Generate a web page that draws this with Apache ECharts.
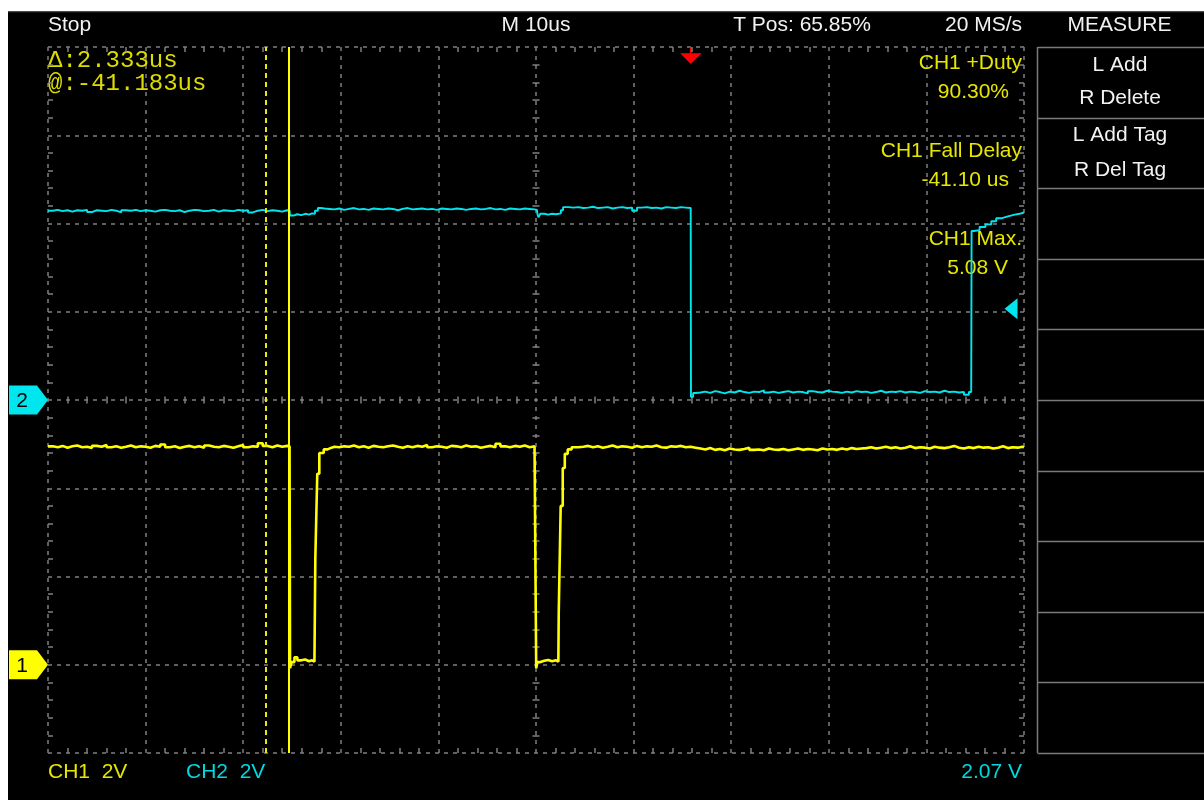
<!DOCTYPE html>
<html>
<head>
<meta charset="utf-8">
<script src="https://cdn.jsdelivr.net/npm/echarts@6/dist/echarts.min.js"></script>
<style>
  html, body { margin: 0; padding: 0; background: #fff; }
  #scope { position: absolute; left: 8px; top: 11px; width: 1196px; height: 789px; }
</style>
</head>
<body>
<div id="scope"></div>
<script>
// ---- acquisition settings ----
const TIME_PER_DIV_US = 10;
const H_DIVS = 10;
const TRIG_POS_PCT = 65.85;
const VOLTS_PER_DIV = 2;
const CH2_TRIG_LEVEL_V = 2.07;
const CURSOR_AT_US = -41.183;
const CURSOR_DELTA_US = 2.333;
const SAMPLE_STEP_US = 0.5;

// ---- on-screen texts ----
const headerTexts = ['Stop', 'M 10us', 'T Pos: 65.85%', '20 MS/s'];
const cursorReadouts = ['\u0394:2.333us', '@:-41.183us'];
const measureLabels = ['CH1 +Duty', 'CH1 Fall Delay', 'CH1 Max.'];
const measureValues = ['90.30%', '-41.10 us', '5.08 V'];
const menuTitle = 'MEASURE';
const menuItems = ['L Add', 'R Delete', 'L Add Tag', 'R Del Tag'];
const channelScales = ['CH1  2V', 'CH2  2V'];
const trigLevelText = '2.07 V';

// ---- CH1 (volts), time in us relative to trigger ----
const ch1LeadStart = -65.85;
const ch1Lead = [
  4.95, 4.93, 4.96, 4.92, 4.95, 4.97, 4.93, 4.94, 4.91, 4.96,
  4.94, 4.98, 4.93, 4.95, 4.92, 4.94, 4.97, 4.93, 4.95, 4.94,
  4.92, 4.96, 4.94, 4.99, 4.93, 4.95, 4.91, 4.94, 4.96, 4.93,
  4.95, 4.92, 4.97, 4.94, 4.93, 4.96, 4.94, 4.92, 4.95, 4.98,
  4.93, 4.95, 4.94, 5.02, 4.96, 4.93, 4.97, 4.94, 4.96, 4.95
];
const ch1Pulse1 = [
  [-41.10, 4.95], [-41.05, -0.08], [-40.9, 0.06], [-40.6, 0.17], [-40.3, 0.10],
  [-39.9, 0.12], [-39.5, 0.08], [-39.1, 0.10], [-38.8, 0.07], [-38.55, 0.03],
  [-38.46, 2.42], [-38.26, 4.33], [-38.05, 4.80], [-37.6, 4.88], [-37.2, 4.92], [-36.8, 4.94]
];
const ch1MidStart = -36.5;
const ch1Mid = [
  4.93, 4.95, 4.94, 4.97, 4.93, 4.95, 4.92, 4.96, 4.94, 4.93,
  4.95, 4.97, 4.94, 4.92, 4.95, 4.93, 4.96, 4.94, 4.98, 4.93,
  4.95, 4.94, 4.92, 4.96, 4.95, 4.93, 4.97, 4.94, 4.95, 4.92,
  4.94, 4.96, 4.93, 5.01, 4.95, 4.93, 4.96, 4.94, 4.97, 4.93,
  4.95, 4.94
];
const ch1Pulse2 = [
  [-15.88, 4.93], [-15.83, -0.08], [-15.7, 0.06], [-15.4, 0.09], [-15.0, 0.11],
  [-14.6, 0.08], [-14.2, 0.10], [-13.8, 0.07], [-13.56, 0.05], [-13.52, 1.20],
  [-13.32, 3.60], [-13.11, 4.46], [-12.9, 4.78], [-12.6, 4.88], [-12.2, 4.93]
];
const ch1TailStart = -11.5;
const ch1Tail = [
  4.94, 4.96, 4.93, 4.95, 4.92, 4.94, 4.97, 4.93, 4.95, 4.94,
  4.92, 4.96, 4.93, 4.95, 4.94, 4.97, 4.93, 4.92, 4.95, 4.94,
  4.96, 4.93, 4.94,
  4.92, 4.90, 4.88, 4.91, 4.87, 4.89, 4.86, 4.90, 4.88, 4.87,
  4.89, 4.92, 4.87, 4.88, 4.86, 4.90, 4.88, 4.87, 4.89, 4.86,
  4.88, 4.90, 4.87, 4.89, 4.88, 4.86, 4.90, 4.88, 4.89, 4.87,
  4.90, 4.88, 4.91, 4.89, 4.90,
  4.91, 4.93, 4.90, 4.92, 4.94, 4.91, 4.93, 4.90, 4.92, 4.95,
  4.91, 4.93, 4.92, 4.90, 4.94, 4.92, 4.91, 4.93, 4.96, 4.92,
  4.90, 4.93, 4.91, 4.94, 4.92, 4.93, 4.90, 4.92, 4.95, 4.91,
  4.93, 4.92, 4.94, 4.93
];
const ch1End = [[34.15, 4.92]];

// ---- CH2 (volts) ----
const ch2LeadStart = -65.85;
const ch2Lead = [
  4.29, 4.31, 4.28, 4.30, 4.27, 4.30, 4.29, 4.31, 4.26, 4.30,
  4.29, 4.28, 4.31, 4.29, 4.25, 4.30, 4.29, 4.31, 4.28, 4.30,
  4.29, 4.27, 4.30, 4.31, 4.29, 4.28, 4.30, 4.26, 4.29, 4.31,
  4.30, 4.28, 4.29, 4.31, 4.27, 4.30, 4.29, 4.28, 4.31, 4.29,
  4.30, 4.25, 4.29, 4.31, 4.28, 4.30, 4.29, 4.27, 4.30, 4.29
];
const ch2Dip1 = [
  [-41.1, 4.30], [-41.05, 4.18], [-40.7, 4.21], [-40.3, 4.19], [-39.9, 4.22],
  [-39.5, 4.20], [-39.1, 4.23], [-38.8, 4.22], [-38.5, 4.29], [-38.2, 4.35], [-37.9, 4.34]
];
const ch2MidStart = -37.5;
const ch2Mid = [
  4.33, 4.32, 4.34, 4.31, 4.33, 4.35, 4.32, 4.33, 4.31, 4.34,
  4.33, 4.32, 4.34, 4.33, 4.30, 4.33, 4.35, 4.32, 4.33, 4.34,
  4.32, 4.33, 4.31, 4.34, 4.33, 4.32, 4.34, 4.33, 4.31, 4.33,
  4.34, 4.32, 4.33, 4.35, 4.32, 4.33, 4.31, 4.34, 4.33, 4.32,
  4.34, 4.33, 4.32, 4.31
];
const ch2Dip2 = [
  [-15.75, 4.31], [-15.7, 4.21], [-15.6, 4.14], [-15.4, 4.22], [-15.0, 4.20],
  [-14.6, 4.22], [-14.2, 4.21], [-13.8, 4.22], [-13.6, 4.23], [-13.3, 4.30], [-13.08, 4.37]
];
const ch2HighStart = -12.5;
const ch2High = [
  4.36, 4.37, 4.35, 4.36, 4.38, 4.35, 4.36, 4.37, 4.34, 4.36,
  4.37, 4.35, 4.36, 4.29, 4.36, 4.37, 4.35, 4.36, 4.34, 4.37,
  4.36, 4.35, 4.37, 4.36, 4.35
];
const ch2Fall = [[0.0, 4.35], [0.03, 0.07], [0.25, 0.16]];
const ch2LowStart = 0.5;
const ch2Low = [
  0.17, 0.19, 0.16, 0.20, 0.18, 0.15, 0.19, 0.17, 0.21, 0.18,
  0.16, 0.19, 0.18, 0.22, 0.17, 0.19, 0.16, 0.18, 0.20, 0.17,
  0.19, 0.18, 0.15, 0.20, 0.18, 0.17, 0.21, 0.19, 0.18, 0.16,
  0.19, 0.17, 0.20, 0.18, 0.19, 0.16, 0.18, 0.21, 0.17, 0.19,
  0.18, 0.20, 0.17, 0.19, 0.18, 0.16, 0.20, 0.18, 0.19, 0.17,
  0.21, 0.18, 0.19, 0.17, 0.18, 0.12, 0.18
];
const ch2Rise = [
  [28.74, 0.17], [28.78, 3.83], [29.0, 3.85], [29.6, 3.92], [30.2, 3.98],
  [30.8, 4.05], [31.3, 4.12], [31.9, 4.16], [32.5, 4.20], [33.2, 4.22],
  [33.7, 4.25], [34.15, 4.26]
];

// ---- build series data (x axis counts us from the left edge of the screen) ----
const TRIG_OFFSET_US = TRIG_POS_PCT / 100 * H_DIVS * TIME_PER_DIV_US;
const flat = (start, values) => values.map((v, i) => [start + i * SAMPLE_STEP_US, v]);
const toScreen = p => [+(p[0] + TRIG_OFFSET_US).toFixed(3), p[1]];

const ch1Data = [].concat(
  flat(ch1LeadStart, ch1Lead), ch1Pulse1, flat(ch1MidStart, ch1Mid),
  ch1Pulse2, flat(ch1TailStart, ch1Tail), ch1End
).map(toScreen);

const ch2Data = [].concat(
  flat(ch2LeadStart, ch2Lead), ch2Dip1, flat(ch2MidStart, ch2Mid), ch2Dip2,
  flat(ch2HighStart, ch2High), ch2Fall, flat(ch2LowStart, ch2Low), ch2Rise
).map(toScreen);

// ---- styling ----
const SANS = '"Liberation Sans", Arial, sans-serif';
const MONO = '"Liberation Mono", "Courier New", monospace';
const GRID_GRAY = '#808080';
const YELLOW = '#ffff00';
const YELLOW_TEXT = '#e6e600';
const CYAN = '#00e6ee';
const CYAN_TEXT = '#00d8e0';
const WHITE_TEXT = '#f2f2f2';

const gridBox = { left: 40, top: 36, width: 976, height: 706 };
const X_MAX = H_DIVS * TIME_PER_DIV_US;

const dash = { type: [4, 5], color: GRID_GRAY, width: 1.5 };
const tickLine = { color: GRID_GRAY, width: 1.5 };

function xAxisDef(opts) {
  return Object.assign({
    type: 'value', gridIndex: 0, min: 0, max: X_MAX, interval: TIME_PER_DIV_US,
    axisLine: { show: false, onZero: false },
    axisLabel: { show: false },
    splitLine: { show: false },
    axisPointer: { show: false }
  }, opts);
}
function yAxisDef(min, max, opts) {
  return Object.assign({
    type: 'value', gridIndex: 0, min: min, max: max, interval: VOLTS_PER_DIV,
    axisLine: { show: false, onZero: false },
    axisLabel: { show: false },
    splitLine: { show: false },
    axisPointer: { show: false }
  }, opts);
}

const chart = echarts.init(document.getElementById('scope'), null, { renderer: 'canvas' });

chart.setOption({
  backgroundColor: '#000',
  animation: false,
  grid: gridBox,
  xAxis: [
    xAxisDef({ position: 'bottom', splitLine: { show: true, lineStyle: dash },
      axisTick: { show: false, inside: true },
      minorTick: { show: true, splitNumber: 5, length: 5, lineStyle: tickLine } }),
    xAxisDef({ position: 'top',
      axisTick: { show: false, inside: true },
      minorTick: { show: true, splitNumber: 5, length: 5, lineStyle: tickLine } }),
    xAxisDef({ position: 'bottom', offset: -gridBox.height / 2,
      axisTick: { show: false, inside: true },
      minorTick: { show: true, splitNumber: 5, length: 3.5, lineStyle: tickLine } }),
    xAxisDef({ position: 'bottom', offset: -gridBox.height / 2,
      axisTick: { show: false, inside: false },
      minorTick: { show: true, splitNumber: 5, length: 3.5, lineStyle: tickLine } })
  ],
  yAxis: [
    // CH1: ground one division above the bottom
    yAxisDef(-VOLTS_PER_DIV, 7 * VOLTS_PER_DIV, { position: 'left',
      splitLine: { show: true, lineStyle: dash },
      axisTick: { show: false, inside: true },
      minorTick: { show: true, splitNumber: 5, length: 5, lineStyle: tickLine } }),
    // CH2: ground at the centre line
    yAxisDef(-4 * VOLTS_PER_DIV, 4 * VOLTS_PER_DIV, { position: 'right',
      axisTick: { show: false, inside: true },
      minorTick: { show: true, splitNumber: 5, length: 5, lineStyle: tickLine } }),
    yAxisDef(-4 * VOLTS_PER_DIV, 4 * VOLTS_PER_DIV, { position: 'left', offset: -gridBox.width / 2,
      axisTick: { show: false, inside: true },
      minorTick: { show: true, splitNumber: 5, length: 3.5, lineStyle: tickLine } }),
    yAxisDef(-4 * VOLTS_PER_DIV, 4 * VOLTS_PER_DIV, { position: 'left', offset: -gridBox.width / 2,
      axisTick: { show: false, inside: false },
      minorTick: { show: true, splitNumber: 5, length: 3.5, lineStyle: tickLine } })
  ],
  series: [
    {
      name: 'CH2', type: 'line', xAxisIndex: 0, yAxisIndex: 1,
      data: ch2Data, step: 'end', showSymbol: false, silent: true,
      lineStyle: { color: CYAN, width: 1.9 }
    },
    {
      name: 'CH1', type: 'line', xAxisIndex: 0, yAxisIndex: 0,
      data: ch1Data, step: 'end', showSymbol: false, silent: true,
      lineStyle: { color: YELLOW, width: 2.6 },
      markLine: {
        silent: true, symbol: ['none', 'none'], label: { show: false },
        emphasis: { disabled: true },
        data: [
          { xAxis: CURSOR_AT_US + TRIG_OFFSET_US,
            lineStyle: { type: 'solid', color: YELLOW, width: 2 } },
          { xAxis: CURSOR_AT_US - CURSOR_DELTA_US + TRIG_OFFSET_US,
            lineStyle: { type: [5, 4], color: '#e8e800', width: 2 } }
        ]
      }
    }
  ]
});

// ---- overlay: markers, readouts and the measure menu ----
function txt(text, x, y, color, font, align) {
  return { type: 'text', x: x, y: y, silent: true,
    style: { text: text, fill: color, font: font, align: align || 'left', verticalAlign: 'middle' } };
}
function seg(x1, y1, x2, y2, color, width) {
  return { type: 'line', silent: true, shape: { x1: x1, y1: y1, x2: x2, y2: y2 },
    style: { stroke: color, lineWidth: width } };
}
function channelTag(label, y0, fill) {
  const gl = gridBox.left;
  return [
    { type: 'polygon', silent: true,
      shape: { points: [[gl - 39, y0 - 14.5], [gl - 11, y0 - 14.5], [gl, y0], [gl - 11, y0 + 14.5], [gl - 39, y0 + 14.5]] },
      style: { fill: fill } },
    txt(label, gl - 26, y0 + 1, '#000', '21px ' + SANS, 'center')
  ];
}

const gridRight = gridBox.left + gridBox.width;
const gridBottom = gridBox.top + gridBox.height;
const ch1Zero = chart.convertToPixel({ yAxisIndex: 0 }, 0);
const ch2Zero = chart.convertToPixel({ yAxisIndex: 1 }, 0);
const trigX = chart.convertToPixel({ xAxisIndex: 0 }, TRIG_OFFSET_US);
const trigLevelY = chart.convertToPixel({ yAxisIndex: 1 }, CH2_TRIG_LEVEL_V);

const HEAD_FONT = '21px ' + SANS;
const headerY = 14;
const menuX = gridRight + 13.5;
const rowH = gridBox.height / 10;

const graphics = [
  seg(0, 0.5, 1196, 0.5, '#4a4a4a', 1.5),
  txt(headerTexts[0], gridBox.left, headerY, WHITE_TEXT, HEAD_FONT, 'left'),
  txt(headerTexts[1], gridBox.left + gridBox.width / 2, headerY, WHITE_TEXT, HEAD_FONT, 'center'),
  txt(headerTexts[2], 794, headerY, WHITE_TEXT, HEAD_FONT, 'center'),
  txt(headerTexts[3], gridRight - 2, headerY, WHITE_TEXT, HEAD_FONT, 'right'),
  txt(menuTitle, 1111.5, headerY, WHITE_TEXT, HEAD_FONT, 'center'),

  txt(cursorReadouts[0], gridBox.left, 50, '#dcdc00', '24px ' + MONO, 'left'),
  txt(cursorReadouts[1], gridBox.left, 73, '#dcdc00', '24px ' + MONO, 'left'),

  txt(measureLabels[0], gridRight - 2, 52, YELLOW_TEXT, HEAD_FONT, 'right'),
  txt(measureValues[0], gridRight - 15, 81, YELLOW_TEXT, HEAD_FONT, 'right'),
  txt(measureLabels[1], gridRight - 2, 140, YELLOW_TEXT, HEAD_FONT, 'right'),
  txt(measureValues[1], gridRight - 15, 169, YELLOW_TEXT, HEAD_FONT, 'right'),
  txt(measureLabels[2], gridRight - 2, 228, YELLOW_TEXT, HEAD_FONT, 'right'),
  txt(measureValues[2], gridRight - 16, 257, YELLOW_TEXT, HEAD_FONT, 'right'),

  txt(channelScales[0], gridBox.left, 761, YELLOW_TEXT, HEAD_FONT, 'left'),
  txt(channelScales[1], 178, 761, CYAN_TEXT, HEAD_FONT, 'left'),
  txt(trigLevelText, gridRight - 2, 761, CYAN_TEXT, HEAD_FONT, 'right'),

  // trigger position marker
  seg(trigX, gridBox.top, trigX, gridBox.top + 7, '#ff0000', 1.5),
  { type: 'polygon', silent: true,
    shape: { points: [[trigX - 10.5, gridBox.top + 6.3], [trigX + 11, gridBox.top + 6.3], [trigX, gridBox.top + 17]] },
    style: { fill: '#ff0000' } },

  // CH2 trigger level marker
  { type: 'polygon', silent: true,
    shape: { points: [[gridRight - 19.5, trigLevelY], [gridRight - 6.5, trigLevelY - 10.5], [gridRight - 6.5, trigLevelY + 10.5]] },
    style: { fill: CYAN } },

  // measure menu frame
  seg(menuX, gridBox.top, menuX, gridBottom, '#7a7a7a', 1.5)
];

for (let k = 0; k <= 10; k++) {
  const y = Math.round(gridBox.top + k * rowH) + 0.5;
  graphics.push(seg(menuX, y, 1196, y, '#7a7a7a', 1.5));
}
const menuTextX = 1112;
const menuTextY = [54, 87, 124, 159];
menuItems.forEach((m, i) => graphics.push(txt(m, menuTextX, menuTextY[i], WHITE_TEXT, HEAD_FONT, 'center')));

graphics.push.apply(graphics, channelTag('2', ch2Zero, CYAN));
graphics.push.apply(graphics, channelTag('1', ch1Zero, YELLOW));

chart.setOption({ graphic: graphics });
</script>
</body>
</html>
